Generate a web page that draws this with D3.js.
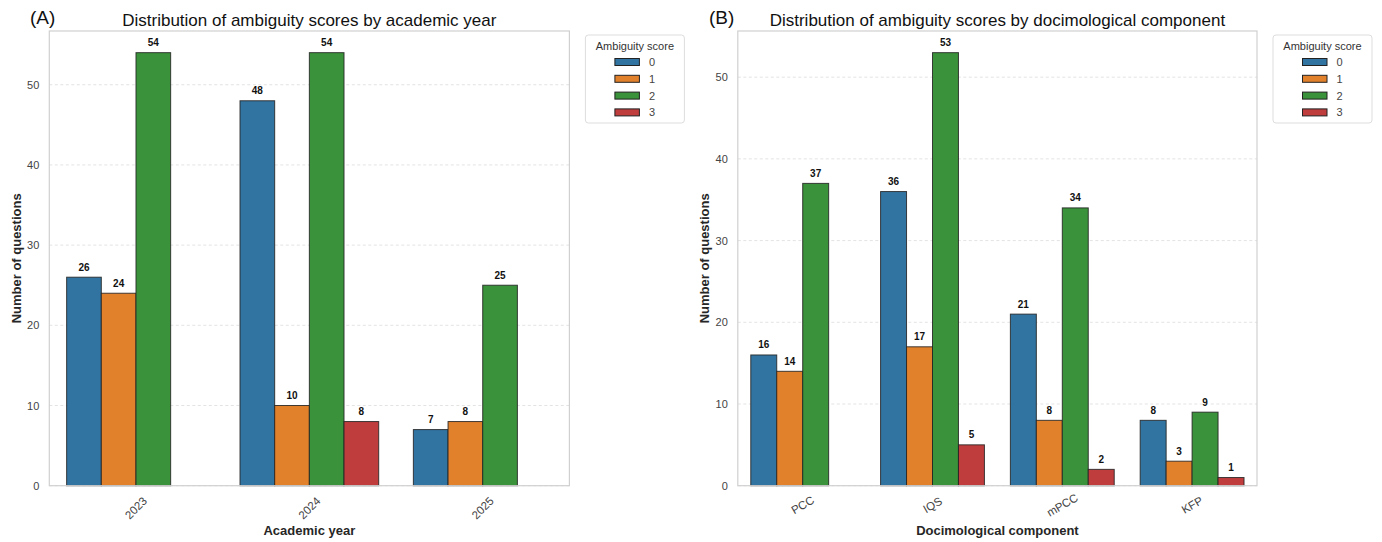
<!DOCTYPE html>
<html>
<head>
<meta charset="utf-8">
<script src="https://cdn.jsdelivr.net/npm/d3@7/dist/d3.min.js"></script>
<style>
  html, body { margin: 0; padding: 0; background: #fff; }
  svg { display: block; font-family: "Liberation Sans", Arial, sans-serif; }
</style>
</head>
<body>
<svg id="chart" width="1382" height="542"></svg>
<script>
// ---- Data ----
const scores = ["0", "1", "2", "3"];
const scoreColors = ["#3274a1", "#e1812c", "#3a923a", "#c03d3e"];

const years = ["2023", "2024", "2025"];
const yearScore0 = [26, 48, 7];
const yearScore1 = [24, 10, 8];
const yearScore2 = [54, 54, 25];
const yearScore3 = [0, 8, 0];

const components = ["PCC", "IQS", "mPCC", "KFP"];
const compScore0 = [16, 36, 21, 8];
const compScore1 = [14, 17, 8, 3];
const compScore2 = [37, 53, 34, 9];
const compScore3 = [0, 5, 2, 1];

const yTicks = [0, 10, 20, 30, 40, 50];

const panels = [
  {
    tag: "(A)", title: "Distribution of ambiguity scores by academic year",
    cats: years, series: [yearScore0, yearScore1, yearScore2, yearScore3],
    xLabel: "Academic year", left: 49.3, right: 569.4, rot: 45, tickY: 508, tagX: 30
  },
  {
    tag: "(B)", title: "Distribution of ambiguity scores by docimological component",
    cats: components, series: [compScore0, compScore1, compScore2, compScore3],
    xLabel: "Docimological component", left: 737.8, right: 1257, rot: 30, tickY: 505, tagX: 709
  }
];

const svg = d3.select("#chart");
const plotTop = 31, plotBottom = 485.7;
const textCol = "#262626";

panels.forEach(p => {
  const g = svg.append("g");
  const maxV = d3.max(p.series.flat());
  const y = d3.scaleLinear().domain([0, maxV * 1.05]).range([plotBottom, plotTop]);
  const x = d3.scaleBand().domain(p.cats).range([p.left, p.right])
    .paddingInner(0.2).paddingOuter(0.1);
  const xs = d3.scaleBand().domain(scores).range([0, x.bandwidth()]).padding(0);

  // grid
  g.append("g").selectAll("line").data(yTicks).join("line")
    .attr("x1", p.left).attr("x2", p.right)
    .attr("y1", d => y(d)).attr("y2", d => y(d))
    .attr("stroke", "#dcdcdc").attr("stroke-width", 0.8)
    .attr("stroke-dasharray", "3,2.5");

  // y tick labels
  g.append("g").selectAll("text").data(yTicks).join("text")
    .attr("x", p.left - 10).attr("y", d => y(d))
    .attr("text-anchor", "end").attr("dominant-baseline", "central")
    .attr("font-size", 11).attr("fill", "#444")
    .text(d => d);

  // bars
  const barData = [];
  p.cats.forEach((c, i) => {
    scores.forEach((s, j) => {
      barData.push({ cat: c, score: s, v: p.series[j][i], color: scoreColors[j] });
    });
  });
  const bars = barData.filter(d => d.v > 0);
  g.append("g").selectAll("rect").data(bars).join("rect")
    .attr("x", d => x(d.cat) + xs(d.score))
    .attr("y", d => y(d.v))
    .attr("width", xs.bandwidth())
    .attr("height", d => y(0) - y(d.v))
    .attr("fill", d => d.color)
    .attr("stroke", "#222").attr("stroke-width", 1).attr("stroke-opacity", 0.85);

  // value labels
  g.append("g").selectAll("text").data(bars).join("text")
    .attr("x", d => x(d.cat) + xs(d.score) + xs.bandwidth() / 2)
    .attr("y", d => y(d.v) - 6.5)
    .attr("text-anchor", "middle")
    .attr("font-size", 10).attr("font-weight", "bold").attr("fill", "#111")
    .text(d => d.v);

  // frame
  g.append("rect")
    .attr("x", p.left).attr("y", plotTop)
    .attr("width", p.right - p.left).attr("height", plotBottom - plotTop)
    .attr("fill", "none").attr("stroke", "#d0d0d0").attr("stroke-width", 1.2);

  // x tick labels
  g.append("g").selectAll("text").data(p.cats).join("text")
    .attr("transform", d => `translate(${x(d) + x.bandwidth() / 2},${p.tickY}) rotate(${-p.rot})`)
    .attr("text-anchor", "middle").attr("dominant-baseline", "central")
    .attr("font-size", 11.5).attr("fill", "#444")
    .text(d => d);

  // axis labels
  g.append("text")
    .attr("x", (p.left + p.right) / 2).attr("y", 535)
    .attr("text-anchor", "middle").attr("font-size", 13).attr("font-weight", "bold")
    .attr("fill", textCol).text(p.xLabel);
  g.append("text")
    .attr("transform", `translate(${p.left - 33},${(plotTop + plotBottom) / 2}) rotate(-90)`)
    .attr("text-anchor", "middle").attr("dominant-baseline", "central")
    .attr("font-size", 13).attr("font-weight", "bold")
    .attr("fill", textCol).text("Number of questions");

  // titles
  g.append("text").attr("x", p.tagX).attr("y", 23.5)
    .attr("font-size", 19).attr("fill", "#111").text(p.tag);
  g.append("text").attr("x", (p.left + p.right) / 2).attr("y", 25.5)
    .attr("text-anchor", "middle").attr("font-size", 17).attr("fill", "#111").text(p.title);

  // legend
  const lx = p.right + 16, ly = 35;
  const lg = g.append("g").attr("transform", `translate(${lx},${ly})`);
  lg.append("rect").attr("width", 99).attr("height", 88).attr("rx", 3)
    .attr("fill", "#fff").attr("stroke", "#dddddd").attr("stroke-width", 1);
  lg.append("text").attr("x", 49.5).attr("y", 15)
    .attr("text-anchor", "middle").attr("font-size", 11).attr("fill", "#333")
    .text("Ambiguity score");
  const items = lg.selectAll("g.item").data(scores).join("g")
    .attr("transform", (d, i) => `translate(0,${27 + i * 16.8})`);
  items.append("rect").attr("x", 29.5).attr("y", -3.5).attr("width", 24.5).attr("height", 7)
    .attr("fill", (d, i) => scoreColors[i]).attr("stroke", "#222").attr("stroke-width", 1);
  items.append("text").attr("x", 63.5).attr("y", 0).attr("dominant-baseline", "central")
    .attr("font-size", 11).attr("fill", "#444").text(d => d);
});
</script>
</body>
</html>
